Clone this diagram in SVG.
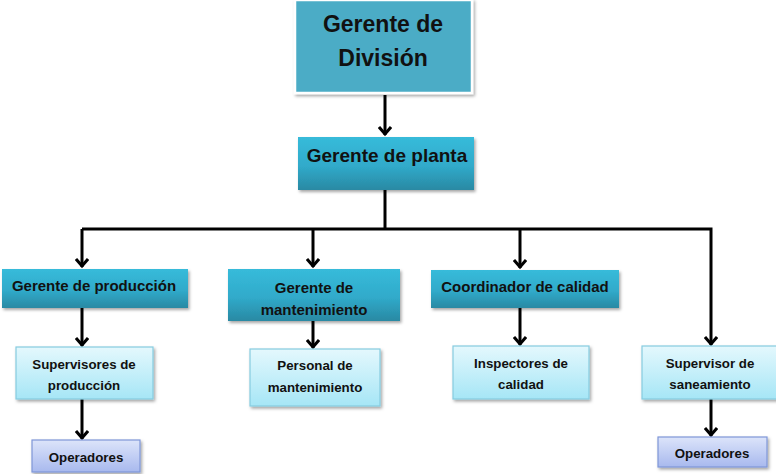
<svg xmlns="http://www.w3.org/2000/svg" width="776" height="474" viewBox="0 0 776 474">
<defs>
<linearGradient id="gDark" x1="0" y1="0" x2="0" y2="1">
<stop offset="0" stop-color="#37BBDA"/><stop offset="0.55" stop-color="#30AACA"/><stop offset="1" stop-color="#2A89A3"/>
</linearGradient>
<linearGradient id="gLight" x1="0" y1="0" x2="0" y2="1">
<stop offset="0" stop-color="#E4F8FD"/><stop offset="1" stop-color="#A6E6F6"/>
</linearGradient>
<linearGradient id="gBlue" x1="0" y1="0" x2="0" y2="1">
<stop offset="0" stop-color="#DCE4FA"/><stop offset="1" stop-color="#A8B9EE"/>
</linearGradient>
<filter id="sh" x="-10%" y="-10%" width="130%" height="140%">
<feDropShadow dx="1.5" dy="2" stdDeviation="1.5" flood-color="#000" flood-opacity="0.35"/>
</filter>
<marker id="ah" markerWidth="14" markerHeight="14" viewBox="0 0 14 14" refX="11" refY="7" orient="auto" markerUnits="userSpaceOnUse">
<path d="M3,1 L10,7 L3,13" fill="none" stroke="#000" stroke-width="3"/>
</marker>
</defs>
<style>
text{font-family:"Liberation Sans",Arial,sans-serif;font-weight:bold;fill:#111;text-anchor:middle;dominant-baseline:central}
.dark{fill:url(#gDark);filter:url(#sh)}
.light{fill:url(#gLight);stroke:#86CCE0;stroke-width:1.2;filter:url(#sh)}
.blue{fill:url(#gBlue);stroke:#7F97D8;stroke-width:1.2;filter:url(#sh)}
.t{font-size:13.3px}
.d{font-size:15px}
.c{stroke:#000;stroke-width:3;fill:none}
</style>
<g id="connectors">
<path class="c" d="M385,95 V135" marker-end="url(#ah)"/>
<path class="c" d="M385,190 V229"/>
<path class="c" d="M82,229 H711 V345" marker-end="url(#ah)"/>
<path class="c" d="M82,229 V267" marker-end="url(#ah)"/>
<path class="c" d="M313,229 V267" marker-end="url(#ah)"/>
<path class="c" d="M520,229 V268" marker-end="url(#ah)"/>
<path class="c" d="M82,308 V346" marker-end="url(#ah)"/>
<path class="c" d="M313,321 V348" marker-end="url(#ah)"/>
<path class="c" d="M520,308 V345" marker-end="url(#ah)"/>
<path class="c" d="M82,399 V439" marker-end="url(#ah)"/>
<path class="c" d="M711,399 V436" marker-end="url(#ah)"/>
</g>
<g id="gerente-division">
<rect x="295" y="0" width="177" height="93" fill="#4BACC6" stroke="#fff" stroke-width="2.5" filter="url(#sh)"/>
<text x="383" y="24" font-size="23">Gerente de</text>
<text x="383" y="58" font-size="23">División</text>
</g>
<g id="gerente-planta">
<rect class="dark" x="298" y="137" width="176" height="53"/>
<text x="387" y="155" font-size="19">Gerente de planta</text>
</g>
<g id="gerente-produccion">
<rect class="dark" x="2" y="269" width="186" height="39"/>
<text class="d" x="94" y="285">Gerente de producción</text>
</g>
<g id="gerente-mantenimiento">
<rect class="dark" x="228" y="269" width="172" height="52"/>
<text class="d" x="314" y="287">Gerente de</text>
<text class="d" x="314" y="309">mantenimiento</text>
</g>
<g id="coordinador-calidad">
<rect class="dark" x="431" y="270" width="188" height="38"/>
<text class="d" x="525" y="286">Coordinador de calidad</text>
</g>
<g id="supervisores-produccion">
<rect class="light" x="16" y="347" width="137" height="52"/>
<text class="t" x="84" y="364">Supervisores de</text>
<text class="t" x="84" y="385">producción</text>
</g>
<g id="personal-mantenimiento">
<rect class="light" x="250" y="349" width="130" height="57"/>
<text class="t" x="315" y="365">Personal de</text>
<text class="t" x="315" y="387">mantenimiento</text>
</g>
<g id="inspectores-calidad">
<rect class="light" x="453" y="346" width="136" height="53"/>
<text class="t" x="521" y="363">Inspectores de</text>
<text class="t" x="521" y="384">calidad</text>
</g>
<g id="supervisor-saneamiento">
<rect class="light" x="642" y="346" width="136" height="53"/>
<text class="t" x="710" y="363">Supervisor de</text>
<text class="t" x="710" y="384">saneamiento</text>
</g>
<g id="operadores-1">
<rect class="blue" x="32" y="440" width="108" height="32"/>
<text class="t" x="86" y="457">Operadores</text>
</g>
<g id="operadores-2">
<rect class="blue" x="658" y="437" width="109" height="30"/>
<text class="t" x="712" y="453">Operadores</text>
</g>
</svg>
